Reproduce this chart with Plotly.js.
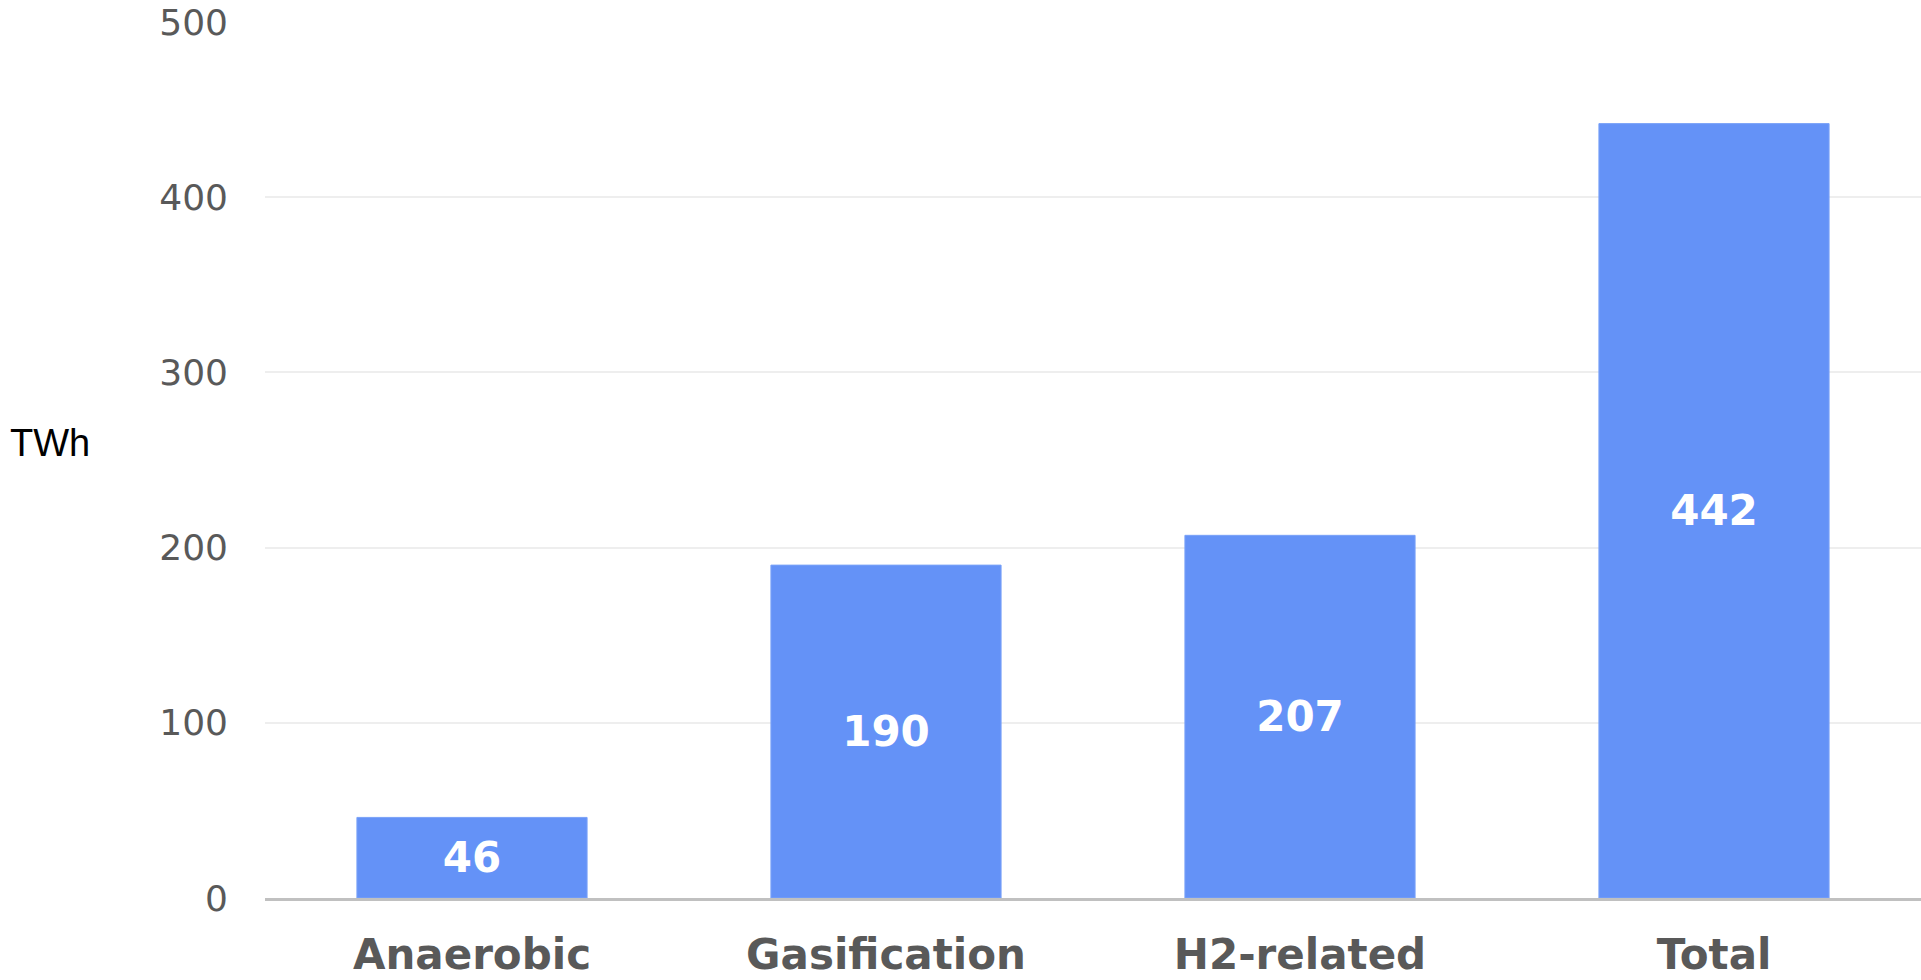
<!DOCTYPE html>
<html>
<head>
<meta charset="utf-8">
<script src="https://cdn.plot.ly/plotly-3.0.1.min.js"></script>
<style>html,body{margin:0;padding:0;background:#fff;}#chart{width:1921px;height:980px;}</style>
</head>
<body>
<div id="chart"></div>
<script>
const categories = ["Anaerobic", "Gasification", "H2-related", "Total"];
const values = [46, 190, 207, 442];
const yTickValues = [0, 100, 200, 300, 400, 500];
const unitLabel = "TWh";

const trace = {
  type: "bar",
  x: categories,
  y: values,
  marker: {color: "#6492f7", line: {width: 1, color: "#7aa2f8"}},
  texttemplate: "<b>%{y}</b>",
  textposition: "inside",
  insidetextanchor: "middle",
  textangle: 0,
  constraintext: "none",
  textfont: {family: "DejaVu Sans", size: 42, color: "#ffffff"},
  hoverinfo: "none"
};

const layout = {
  width: 1921,
  height: 980,
  margin: {l: 265, r: 0, t: 22, b: 82},
  paper_bgcolor: "#ffffff",
  plot_bgcolor: "#ffffff",
  bargap: 0.444,
  showlegend: false,
  xaxis: {
    type: "category",
    showline: true,
    linecolor: "#c0c0c0",
    linewidth: 3,
    showgrid: false,
    ticks: "",
    ticklabelstandoff: 18,
    tickfont: {family: "DejaVu Sans", size: 42, color: "#595959", weight: "bold"}
  },
  yaxis: {
    range: [0, 500],
    tickvals: yTickValues,
    ticktext: yTickValues.map(String),
    showline: false,
    zeroline: false,
    showgrid: true,
    gridcolor: "#eeeeee",
    gridwidth: 2,
    ticks: "",
    ticklabelstandoff: 36,
    tickfont: {family: "DejaVu Sans", size: 36, color: "#595959"}
  },
  annotations: [{
    text: unitLabel,
    xref: "paper", yref: "paper",
    x: (8 - 265) / 1656, y: (898 - 443) / 876,
    xanchor: "left", yanchor: "middle",
    showarrow: false,
    font: {family: "Liberation Sans", size: 38, color: "#000000"}
  }]
};

Plotly.newPlot("chart", [trace], layout, {displayModeBar: false, staticPlot: true});
</script>
</body>
</html>
